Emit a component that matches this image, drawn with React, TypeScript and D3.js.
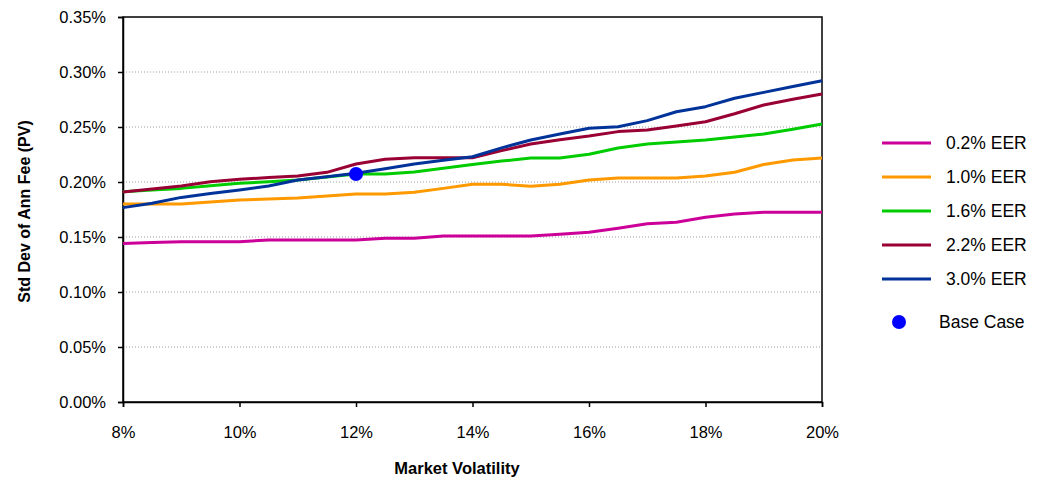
import { useRef, useEffect } from 'react';
import * as d3 from 'd3';

// market volatility (%), step 0.5
const volatility = [8, 8.5, 9, 9.5, 10, 10.5, 11, 11.5, 12, 12.5, 13, 13.5, 14, 14.5, 15, 15.5, 16, 16.5, 17, 17.5, 18, 18.5, 19, 19.5, 20];

const eer02 = [0.1440, 0.1450, 0.1457, 0.1457, 0.1457, 0.1473, 0.1473, 0.1473, 0.1473, 0.1488, 0.1488, 0.1510, 0.1510, 0.1510, 0.1510, 0.1525, 0.1543, 0.1580, 0.1620, 0.1634, 0.1680, 0.1710, 0.1725, 0.1725, 0.1725];
const eer10 = [0.1800, 0.1800, 0.1800, 0.1818, 0.1836, 0.1845, 0.1855, 0.1873, 0.1890, 0.1890, 0.1906, 0.1942, 0.1979, 0.1980, 0.1961, 0.1979, 0.2018, 0.2036, 0.2036, 0.2036, 0.2055, 0.2088, 0.2160, 0.2200, 0.2218];
const eer16 = [0.1912, 0.1927, 0.1942, 0.1965, 0.1988, 0.2003, 0.2018, 0.2045, 0.2073, 0.2073, 0.2091, 0.2124, 0.2160, 0.2190, 0.2218, 0.2218, 0.2252, 0.2309, 0.2345, 0.2364, 0.2382, 0.2409, 0.2436, 0.2480, 0.2527];
const eer22 = [0.1909, 0.1936, 0.1964, 0.2003, 0.2024, 0.2040, 0.2055, 0.2088, 0.2164, 0.2206, 0.2221, 0.2221, 0.2221, 0.2285, 0.2345, 0.2385, 0.2418, 0.2458, 0.2473, 0.2510, 0.2548, 0.2620, 0.2700, 0.2752, 0.2800];
const eer30 = [0.1767, 0.1806, 0.1860, 0.1895, 0.1927, 0.1964, 0.2018, 0.2048, 0.2079, 0.2120, 0.2164, 0.2197, 0.2230, 0.2310, 0.2382, 0.2436, 0.2488, 0.2503, 0.2558, 0.2639, 0.2685, 0.2761, 0.2815, 0.2868, 0.2921];

const seriesNames = ['0.2% EER', '1.0% EER', '1.6% EER', '2.2% EER', '3.0% EER'];
const seriesValues = [eer02, eer10, eer16, eer22, eer30];
const seriesColors = ['#CC0099', '#FF9900', '#00CC00', '#990033', '#003399'];

const baseCase = { x: 12, y: 0.2073 };

const xTicks = [8, 10, 12, 14, 16, 18, 20];
const yTicks = [0, 0.05, 0.1, 0.15, 0.2, 0.25, 0.3, 0.35];

export default function App() {
  const svgRef = useRef<SVGSVGElement>(null);

  useEffect(() => {
    if (!svgRef.current) return;
    const svg = d3.select(svgRef.current);
    svg.selectAll('*').remove();

    const left = 123, right = 822, top = 17, bottom = 402;
    const font = 'Liberation Sans, Arial, sans-serif';

    const x = d3.scaleLinear().domain([8, 20]).range([left, right]);
    const y = d3.scaleLinear().domain([0, 0.35]).range([bottom, top]);

    // Grid lines
    svg.append('g')
      .selectAll('line')
      .data(yTicks.filter(t => t > 0 && t < 0.35))
      .join('line')
      .attr('x1', left).attr('x2', right)
      .attr('y1', d => y(d)).attr('y2', d => y(d))
      .attr('stroke', '#a0a0a0')
      .attr('stroke-width', 1)
      .attr('stroke-dasharray', '1,2');

    // Plot frame
    svg.append('rect')
      .attr('x', left).attr('y', top)
      .attr('width', right - left).attr('height', bottom - top)
      .attr('fill', 'none').attr('stroke', '#000').attr('stroke-width', 1.5);

    // Y axis
    const yAxis = svg.append('g').attr('transform', `translate(${left},0)`)
      .call(d3.axisLeft(y).tickValues(yTicks).tickSize(5).tickPadding(12).tickFormat(d => `${(d as number).toFixed(2)}%`));
    yAxis.select('.domain').attr('stroke', '#000').attr('stroke-width', 1.5);
    yAxis.selectAll('.tick line').attr('stroke', '#000').attr('stroke-width', 1.5);
    yAxis.selectAll('text').attr('font-size', 16.5).attr('font-family', font).attr('fill', '#000');

    // X axis
    const xAxis = svg.append('g').attr('transform', `translate(0,${bottom})`)
      .call(d3.axisBottom(x).tickValues(xTicks).tickSize(5).tickPadding(19).tickFormat(d => `${d}%`));
    xAxis.select('.domain').attr('stroke', '#000').attr('stroke-width', 1.5);
    xAxis.selectAll('.tick line').attr('stroke', '#000').attr('stroke-width', 1.5);
    xAxis.selectAll('text').attr('font-size', 16.5).attr('font-family', font).attr('fill', '#000');

    // Axis titles
    svg.append('text')
      .attr('x', 457).attr('y', 474)
      .attr('text-anchor', 'middle')
      .attr('font-size', 16.5).attr('font-weight', 'bold').attr('font-family', font)
      .text('Market Volatility');
    svg.append('text')
      .attr('transform', `translate(30,${(top + bottom) / 2 + 2}) rotate(-90)`)
      .attr('text-anchor', 'middle')
      .attr('font-size', 16).attr('font-weight', 'bold').attr('font-family', font)
      .text('Std Dev of Ann Fee (PV)');

    // Lines
    const line = d3.line<number>()
      .x((_, i) => x(volatility[i]))
      .y(d => y(d));
    seriesValues.forEach((vals, i) => {
      svg.append('path')
        .datum(vals)
        .attr('d', line)
        .attr('fill', 'none')
        .attr('stroke', seriesColors[i])
        .attr('stroke-width', 3)
        .attr('stroke-linejoin', 'round');
    });

    // Base case marker
    svg.append('circle')
      .attr('cx', x(baseCase.x)).attr('cy', y(baseCase.y))
      .attr('r', 7).attr('fill', '#0000FF');

    // Legend
    const legend = svg.append('g');
    seriesNames.forEach((name, i) => {
      const ly = 143 + i * 34;
      legend.append('line')
        .attr('x1', 882).attr('x2', 931).attr('y1', ly).attr('y2', ly)
        .attr('stroke', seriesColors[i]).attr('stroke-width', 3);
      legend.append('text')
        .attr('x', 946).attr('y', ly + 6)
        .attr('font-size', 17.5).attr('font-family', font)
        .text(name);
    });
    legend.append('circle').attr('cx', 899).attr('cy', 322).attr('r', 7).attr('fill', '#0000FF');
    legend.append('text')
      .attr('x', 939).attr('y', 328)
      .attr('font-size', 17.5).attr('font-family', font)
      .text('Base Case');
  }, []);

  return (
    <svg ref={svgRef} width={1057} height={480}
      style={{ position: 'absolute', left: 0, top: 0, background: '#fff' }} />
  );
}
